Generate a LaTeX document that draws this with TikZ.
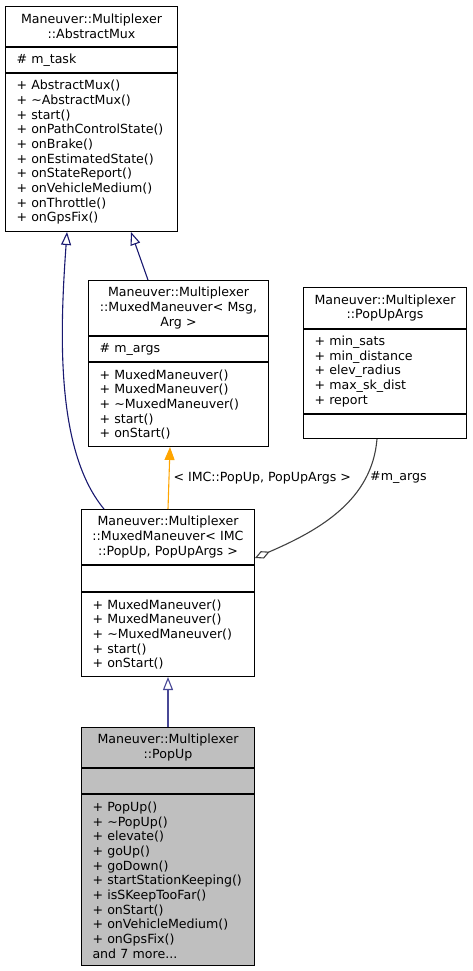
\documentclass[tikz,border=0pt]{standalone}
\usepackage{fontspec}
\setmainfont{DejaVu Sans}
\usetikzlibrary{arrows.meta, positioning}
\definecolor{inhblue}{RGB}{25,25,112}
\definecolor{inhlight}{RGB}{72,72,150}
\definecolor{tmplorange}{RGB}{255,165,0}
\definecolor{aggray}{RGB}{64,64,64}
\definecolor{curgray}{RGB}{191,191,191}

\begin{document}
\begin{tikzpicture}[x=1pt, y=-1pt,
  part/.style={draw=black, line width=1pt, inner xsep=11pt, inner ysep=0pt,
    font=\fontsize{12.6}{14.67}\selectfont},
  classtitle/.style={part, inner xsep=4pt, align=center},
  classbody/.style={part, align=left},
  inherit/.style={draw=inhblue, line width=1.1pt, -{Triangle[open, length=13pt, width=10pt]}},
  tmpl/.style={draw=tmplorange, line width=1.1pt, -{Triangle[length=13pt, width=10pt]}},
  usage/.style={draw=aggray, line width=1.1pt, {Diamond[open, length=16pt, width=8pt]}-},
  edgelabel/.style={inner sep=0pt, anchor=west, font=\fontsize{12.6}{14.67}\selectfont}]
  \useasboundingbox (0,0) rectangle (472,971);

  % Maneuver::Multiplexer::AbstractMux
  \node[classtitle, text width=164pt, minimum height=40pt, anchor=north west] (absT) at (5,6)
    {Maneuver::Multiplexer\\::AbstractMux};
  \node[classbody, text width=150pt, minimum height=25pt, below=0pt of absT] (absA) {\# m\_task};
  \node[classbody, text width=150pt, minimum height=158pt, below=0pt of absA] (absM)
    {+ AbstractMux()\\+ \textasciitilde AbstractMux()\\+ start()\\+ onPathControlState()\\+ onBrake()\\
     + onEstimatedState()\\+ onStateReport()\\+ onVehicleMedium()\\+ onThrottle()\\+ onGpsFix()};

  % Maneuver::Multiplexer::MuxedManeuver< Msg, Arg >
  \node[classtitle, text width=172pt, minimum height=55pt, anchor=north west] (muxT) at (88,280)
    {Maneuver::Multiplexer\\::MuxedManeuver< Msg,\\Arg >};
  \node[classbody, text width=158pt, minimum height=25pt, below=0pt of muxT] (muxA) {\# m\_args};
  \node[classbody, text width=158pt, minimum height=84pt, below=0pt of muxA] (muxM)
    {+ MuxedManeuver()\\+ MuxedManeuver()\\+ \textasciitilde MuxedManeuver()\\+ start()\\+ onStart()};

  % Maneuver::Multiplexer::PopUpArgs
  \node[classtitle, text width=155pt, minimum height=41pt, anchor=north west] (argsT) at (303,287)
    {Maneuver::Multiplexer\\::PopUpArgs};
  \node[classbody, text width=141pt, minimum height=84pt, below=0pt of argsT] (argsA)
    {+ min\_sats\\+ min\_distance\\+ elev\_radius\\+ max\_sk\_dist\\+ report};
  \node[classbody, text width=141pt, minimum height=24pt, below=0pt of argsA] (argsM) {};

  % Maneuver::Multiplexer::MuxedManeuver< IMC::PopUp, PopUpArgs >
  \node[classtitle, text width=165pt, minimum height=55pt, anchor=north west] (imcT) at (81,509)
    {Maneuver::Multiplexer\\::MuxedManeuver< IMC\\::PopUp, PopUpArgs >};
  \node[classbody, text width=151pt, minimum height=26pt, below=0pt of imcT] (imcA) {};
  \node[classbody, text width=151pt, minimum height=84pt, below=0pt of imcA] (imcM)
    {+ MuxedManeuver()\\+ MuxedManeuver()\\+ \textasciitilde MuxedManeuver()\\+ start()\\+ onStart()};

  % Maneuver::Multiplexer::PopUp
  \node[classtitle, fill=curgray, text width=165pt, minimum height=40pt, anchor=north west] (popT) at (81,727)
    {Maneuver::Multiplexer\\::PopUp};
  \node[classbody, fill=curgray, text width=151pt, minimum height=25pt, below=0pt of popT] (popA) {};
  \node[classbody, fill=curgray, text width=151pt, minimum height=171pt, below=0pt of popA] (popM)
    {+ PopUp()\\+ \textasciitilde PopUp()\\+ elevate()\\+ goUp()\\+ goDown()\\+ startStationKeeping()\\
     + isSKeepTooFar()\\+ onStart()\\+ onVehicleMedium()\\+ onGpsFix()\\and 7 more...};

  % relations
  \draw[inherit] ([xshift=23pt]imcT.north west) .. controls (55,450) and (60,330) .. ([xshift=62pt]absM.south west);
  \draw[inherit] ([xshift=60pt]muxT.north west) -- ([xshift=126pt]absM.south west);
  \draw[tmpl] ([xshift=87pt]imcT.north west) -- ([xshift=82pt]muxM.south west)
    node[edgelabel, midway, xshift=4pt] (tmplLbl) {< IMC::PopUp, PopUpArgs >};
  \draw[usage] ([yshift=7pt]imcT.south east) .. controls (320,530) and (372,500) .. ([xshift=74pt]argsM.south west);
  \node[edgelabel] (aggLbl) at (370,477) {\#m\_args};
  \draw[inherit, draw=inhlight] ([xshift=87pt]popT.north west) -- ([xshift=87pt]imcM.south west);
\end{tikzpicture}
\end{document}
